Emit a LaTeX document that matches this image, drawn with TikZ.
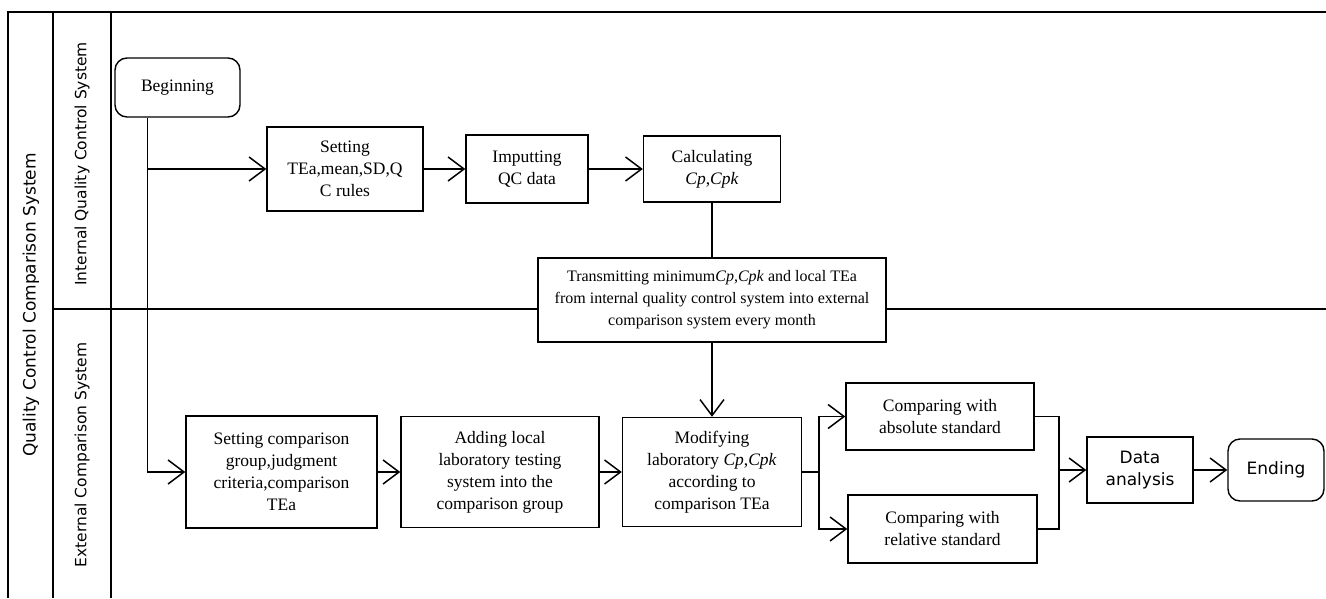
\documentclass[tikz,border=0pt]{standalone}
\usepackage{fontspec}
\setmainfont{Liberation Serif}
\newfontfamily\lanefont{DejaVu Sans}
\usetikzlibrary{arrows.meta, positioning, calc}

\begin{document}
\begin{tikzpicture}[x=1pt, y=-1pt,
    box/.style={draw, line width=1.4pt, fill=white, align=center, inner sep=0pt, font=\fontsize{17.5}{22}\selectfont},
    term/.style={box, rounded corners=12pt},
    sansbox/.style={box, font=\lanefont\fontsize{17}{22}\selectfont},
    lane/.style={font=\lanefont\fontsize{15.5}{18}\selectfont, rotate=90},
    flow/.style={line width=1.5pt},
    arr/.style={flow, -{Straight Barb[length=16pt,width=24pt,line width=1.5pt]}}
]
\useasboundingbox (0,0) rectangle (1326,598);

% swimlanes
\draw[flow] (8,598) -- (8,12) -- (1326,12);
\draw[flow] (53,12) -- (53,598);
\draw[flow] (111,12) -- (111,598);
\draw[flow] (53,309) -- (1326,309);
\node[lane, font=\lanefont\fontsize{17}{18}\selectfont] (qccs) at (31,305) {Quality Control Comparison System};
\node[lane] (iqcs) at (82,164) {Internal Quality Control System};
\node[lane] (ecs) at (82,455) {External Comparison System};

% internal quality control
\node[term, minimum width=125pt, minimum height=59pt] (begin) at (177.5,87.5) {Beginning};
\node[box, minimum width=156pt, minimum height=84pt] (setting) at (345,169) {Setting\\TEa,mean,SD,Q\\C rules};
\node[box, minimum width=122pt, minimum height=68pt] (imput) at (527,169) {Imputting\\QC data};
\node[box, minimum width=137pt, minimum height=66pt] (calc) at (712,169) {Calculating\\\textit{Cp},\textit{Cpk}};
\node[box, minimum width=348pt, minimum height=84pt, font=\fontsize{16}{22}\selectfont] (trans) at (712,300)
    {Transmitting minimum\textit{Cp},\textit{Cpk} and local TEa\\from internal quality control system into external\\comparison system every month};

% external comparison
\node[box, minimum width=191pt, minimum height=112pt] (setcomp) at (281.5,472) {Setting comparison\\group,judgment\\criteria,comparison\\TEa};
\node[box, minimum width=198pt, minimum height=111pt] (adding) at (500,472) {Adding local\\laboratory testing\\system into the\\comparison group};
\node[box, minimum width=179pt, minimum height=109pt] (modif) at (712,472) {Modifying\\laboratory \textit{Cp},\textit{Cpk}\\according to\\comparison TEa};
\node[box, minimum width=188pt, minimum height=67pt] (absol) at (940,416.5) {Comparing with\\absolute standard};
\node[box, minimum width=189pt, minimum height=68pt] (relat) at (942.5,529) {Comparing with\\relative standard};
\node[sansbox, minimum width=106pt, minimum height=66pt] (data) at (1140,470) {Data\\analysis};
\node[term, sansbox, rounded corners=12pt, minimum width=96pt, minimum height=62pt] (ending) at (1276,470) {Ending};

% connectors
\coordinate (trunk) at ([xshift=-30pt]begin.south);
\draw[arr] (trunk) |- (setcomp.west);
\draw[arr] (trunk |- setting.west) -- (setting.west);
\draw[arr] (setting) -- (imput);
\draw[arr] (imput) -- (calc);
\draw[flow] (calc) -- (trans);
\draw[arr] (trans) -- (modif);
\draw[arr] (setcomp) -- (adding);
\draw[arr] (adding) -- (modif);

\coordinate (split) at ([xshift=17pt]modif.east);
\draw[flow] (modif.east) -- (split);
\draw[arr] (split) |- (absol.west);
\draw[arr] (split) |- (relat.west);
\coordinate (join) at (1059,470);
\draw[flow] (absol.east) -| (join);
\draw[flow] (relat.east) -| (join);
\draw[arr] (join) -- (data.west);
\draw[arr] (data) -- (ending);
\end{tikzpicture}
\end{document}
